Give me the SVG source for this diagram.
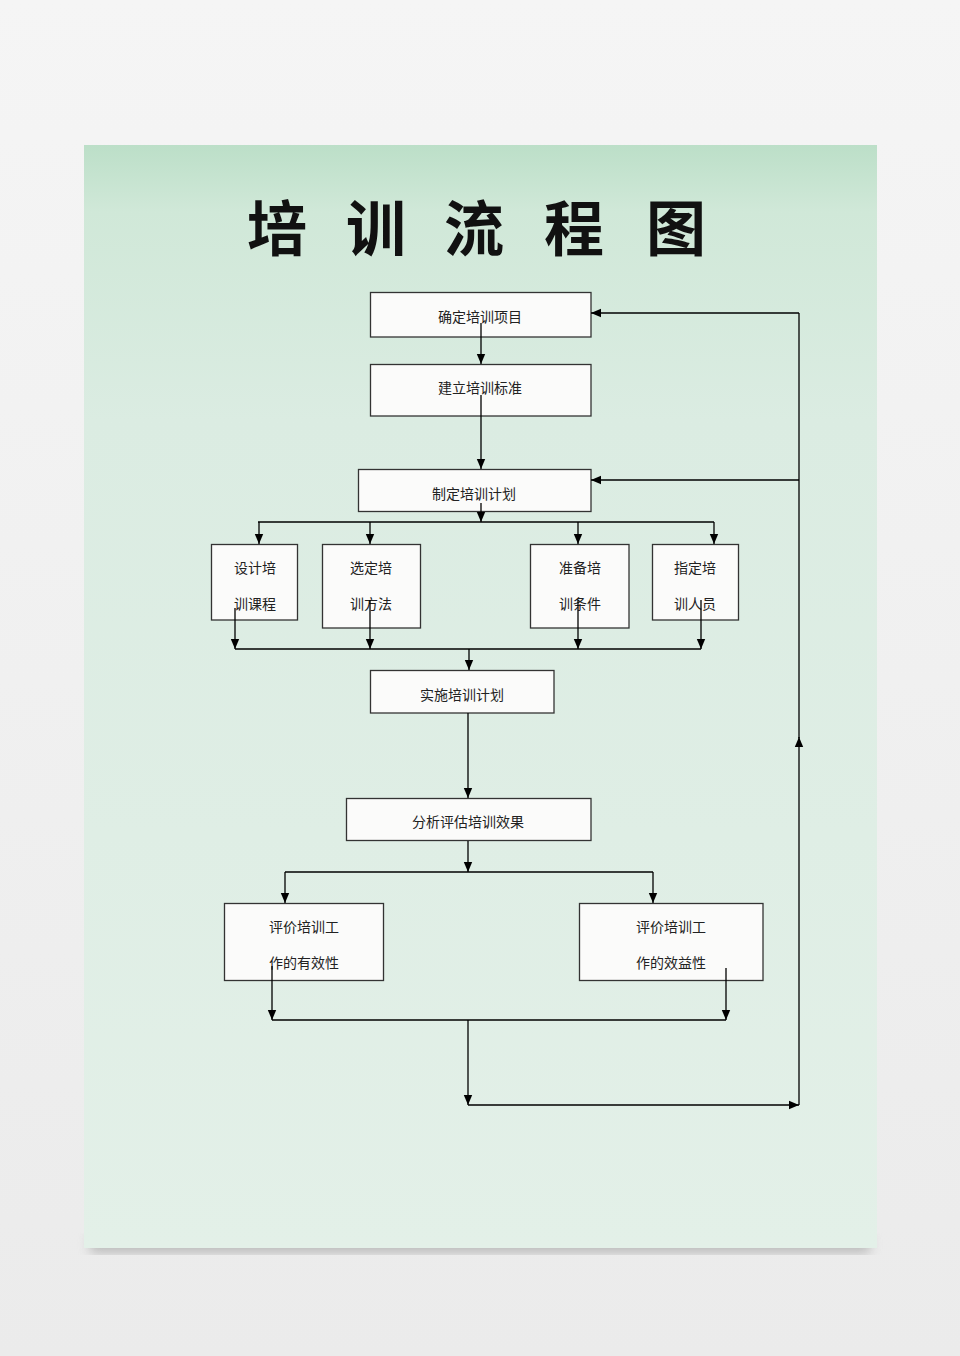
<svg xmlns="http://www.w3.org/2000/svg" width="960" height="1356" viewBox="0 0 960 1356">
<defs>
<linearGradient id="page" x1="0" y1="0" x2="0" y2="1">
<stop offset="0" stop-color="#bcdfc8"/>
<stop offset="0.06" stop-color="#d0e8d8"/>
<stop offset="0.25" stop-color="#dbece2"/>
<stop offset="1" stop-color="#e3f0e8"/>
</linearGradient>
<linearGradient id="outer" x1="0" y1="0" x2="0" y2="1">
<stop offset="0" stop-color="#f5f5f5"/>
<stop offset="1" stop-color="#ebebeb"/>
</linearGradient>
<filter id="blur" x="-10%" y="-10%" width="120%" height="120%">
<feGaussianBlur stdDeviation="6"/>
</filter>
<marker id="ah" viewBox="0 0 10 10" refX="10" refY="5" markerWidth="10" markerHeight="10" orient="auto" markerUnits="userSpaceOnUse">
<path d="M0,0.8 L10,5 L0,9.2 z" fill="#000"/>
</marker>
<style>
.box{fill:#fbfbfa;stroke:#333;stroke-width:1.3}
.lbl{font-family:"Noto Sans CJK SC","Noto Sans",sans-serif;font-size:14px;fill:#222;text-anchor:middle;dominant-baseline:central}
.ttl{font-family:"Noto Sans CJK SC",sans-serif;font-size:60px;font-weight:bold;fill:#111;text-anchor:middle;dominant-baseline:central}
.c{fill:none;stroke:#000;stroke-width:1.3}
.a{marker-end:url(#ah)}
</style>
</defs>
<rect width="960" height="1356" fill="url(#outer)"/>
<rect x="90" y="1235" width="780" height="18" fill="#9a9a9a" opacity="0.6" filter="url(#blur)"/>
<rect x="84" y="145" width="793" height="1103" fill="url(#page)"/>

<g id="title">
<text class="ttl" y="224"><tspan x="277">培</tspan><tspan x="376"> </tspan><tspan x="376">训</tspan><tspan x="474"> </tspan><tspan x="474">流</tspan><tspan x="574"> </tspan><tspan x="574">程</tspan><tspan x="676"> </tspan><tspan x="676">图</tspan></text>
</g>

<g id="n1"><rect class="box" x="370.5" y="292.5" width="220.5" height="44.5"/><text class="lbl" x="480" y="316">确定培训项目</text></g>
<g id="n2"><rect class="box" x="370.5" y="364.5" width="220.5" height="51.5"/><text class="lbl" x="480" y="387">建立培训标准</text></g>
<g id="n3"><rect class="box" x="358.5" y="469.5" width="232.5" height="42"/><text class="lbl" x="474" y="493">制定培训计划</text></g>
<g id="n4"><rect class="box" x="211.5" y="544.5" width="86" height="75.5"/><text class="lbl" x="255" y="567">设计培</text><text class="lbl" x="255" y="603">训课程</text></g>
<g id="n5"><rect class="box" x="322.5" y="544.5" width="98" height="83.5"/><text class="lbl" x="371" y="567">选定培</text><text class="lbl" x="371" y="603">训方法</text></g>
<g id="n6"><rect class="box" x="530.5" y="544.5" width="98.5" height="83.5"/><text class="lbl" x="580" y="567">准备培</text><text class="lbl" x="580" y="603">训条件</text></g>
<g id="n7"><rect class="box" x="652.5" y="544.5" width="86" height="75.5"/><text class="lbl" x="695" y="567">指定培</text><text class="lbl" x="695" y="603">训人员</text></g>
<g id="n8"><rect class="box" x="370.5" y="670.5" width="183.5" height="42.5"/><text class="lbl" x="462" y="694">实施培训计划</text></g>
<g id="n9"><rect class="box" x="346.5" y="798.5" width="244.5" height="42"/><text class="lbl" x="468" y="821">分析评估培训效果</text></g>
<g id="n10"><rect class="box" x="224.5" y="903.5" width="159" height="77"/><text class="lbl" x="304" y="926">评价培训工</text><text class="lbl" x="304" y="962">作的有效性</text></g>
<g id="n11"><rect class="box" x="579.5" y="903.5" width="183.5" height="77"/><text class="lbl" x="671" y="926">评价培训工</text><text class="lbl" x="671" y="962">作的效益性</text></g>

<g id="connectors">
<path class="c a" d="M481,323 V364"/>
<path class="c a" d="M481,395 V469"/>
<path class="c a" d="M481,503 V522"/>
<path class="c" d="M258,522 H714"/>
<path class="c a" d="M259,522 V544"/>
<path class="c a" d="M370,522 V544"/>
<path class="c a" d="M578,522 V544"/>
<path class="c a" d="M714,522 V544"/>
<path class="c a" d="M235,608 V649"/>
<path class="c a" d="M370,600 V649"/>
<path class="c a" d="M578,600 V649"/>
<path class="c a" d="M701,600 V649"/>
<path class="c" d="M235,649 H701"/>
<path class="c a" d="M469,649 V670"/>
<path class="c a" d="M468,713 V798"/>
<path class="c a" d="M468,841 V872"/>
<path class="c" d="M285,872 H653"/>
<path class="c a" d="M285,872 V903"/>
<path class="c a" d="M653,872 V903"/>
<path class="c a" d="M272,966 V1020"/>
<path class="c a" d="M726,968 V1020"/>
<path class="c" d="M272,1020 H726"/>
<path class="c a" d="M468,1020 V1105"/>
<path class="c a" d="M468,1105 H799"/>
<path class="c a" d="M799,1105 V737"/>
<path class="c" d="M799,738 V313"/>
<path class="c a" d="M799,313 H591"/>
<path class="c a" d="M799,480 H591"/>
</g>
</svg>
